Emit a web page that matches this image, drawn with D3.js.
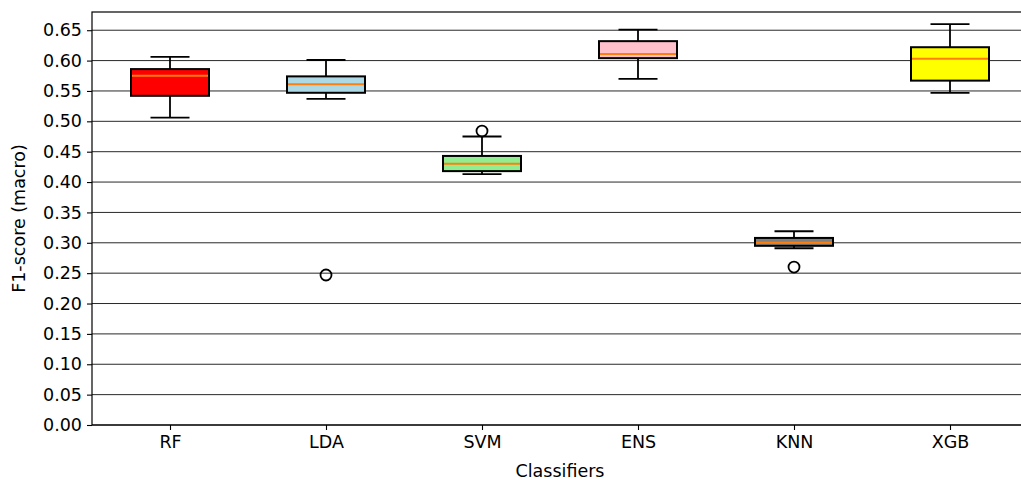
<!DOCTYPE html>
<html>
<head>
<meta charset="utf-8">
<script src="https://cdn.jsdelivr.net/npm/d3@7"></script>
<style>
  body { margin: 0; background: #fff; }
  svg { display: block; font-family: "DejaVu Sans", sans-serif; }
</style>
</head>
<body>
<svg id="chart"></svg>
<script>
// values
const classifiers = ["RF", "LDA", "SVM", "ENS", "KNN", "XGB"];
const whiskerLow  = [0.506, 0.537, 0.413, 0.570, 0.291, 0.547];
const q1          = [0.542, 0.547, 0.418, 0.604, 0.295, 0.567];
const medians     = [0.575, 0.561, 0.430, 0.611, 0.300, 0.603];
const q3          = [0.586, 0.574, 0.443, 0.632, 0.308, 0.622];
const whiskerHigh = [0.606, 0.601, 0.475, 0.651, 0.319, 0.660];
const outliers    = [[], [0.247], [0.484], [], [0.260], []];
const boxColors   = ["red", "lightblue", "lightgreen", "pink", "gray", "yellow"];
const yTicks = d3.range(0, 0.651, 0.05);

const width = 1021, height = 480;
const marginLeft = 92, marginTop = 12, marginBottom = 55;
const plotRight = 1028; // right spine falls outside the picture
const fontSize = 17.5;

const svg = d3.select("#chart").attr("width", width).attr("height", height);

const rows = classifiers.map((c, i) => ({
  name: c, lo: whiskerLow[i], q1: q1[i], med: medians[i], q3: q3[i], hi: whiskerHigh[i],
  out: outliers[i], color: boxColors[i]
}));

const x = d3.scalePoint()
  .domain(classifiers)
  .range([marginLeft, plotRight])
  .padding(0.5);

const y = d3.scaleLinear()
  .domain([0, 0.68])
  .range([height - marginBottom, marginTop]);

const boxW = x.step() * 0.5;
const capW = boxW * 0.5;

// grid
svg.append("g")
  .selectAll("line")
  .data(yTicks)
  .join("line")
  .attr("x1", marginLeft).attr("x2", plotRight)
  .attr("y1", d => y(d)).attr("y2", d => y(d))
  .attr("stroke", "#111")
  .attr("stroke-width", 0.9);

// boxes
const g = svg.append("g")
  .selectAll("g")
  .data(rows)
  .join("g")
  .attr("transform", d => `translate(${x(d.name)},0)`);

g.append("line")
  .attr("y1", d => y(d.hi)).attr("y2", d => y(d.q3))
  .attr("stroke", "#000").attr("stroke-width", 1.8);
g.append("line")
  .attr("y1", d => y(d.lo)).attr("y2", d => y(d.q1))
  .attr("stroke", "#000").attr("stroke-width", 1.8);
g.append("line")
  .attr("x1", -capW / 2).attr("x2", capW / 2)
  .attr("y1", d => y(d.hi)).attr("y2", d => y(d.hi))
  .attr("stroke", "#000").attr("stroke-width", 1.8);
g.append("line")
  .attr("x1", -capW / 2).attr("x2", capW / 2)
  .attr("y1", d => y(d.lo)).attr("y2", d => y(d.lo))
  .attr("stroke", "#000").attr("stroke-width", 1.8);

g.append("rect")
  .attr("x", -boxW / 2)
  .attr("width", boxW)
  .attr("y", d => y(d.q3))
  .attr("height", d => y(d.q1) - y(d.q3))
  .attr("fill", d => d.color)
  .attr("stroke", "#000")
  .attr("stroke-width", 2);

g.append("line")
  .attr("x1", -boxW / 2 + 1).attr("x2", boxW / 2 - 1)
  .attr("y1", d => y(d.med)).attr("y2", d => y(d.med))
  .attr("stroke", "#ff7f0e").attr("stroke-width", 2);

g.selectAll("circle")
  .data(d => d.out)
  .join("circle")
  .attr("cy", d => y(d))
  .attr("r", 5.5)
  .attr("fill", "none")
  .attr("stroke", "#000")
  .attr("stroke-width", 1.8);

// axes
const yAxis = svg.append("g")
  .attr("transform", `translate(${marginLeft},0)`)
  .call(d3.axisLeft(y).tickValues(yTicks).tickFormat(d3.format(".2f")).tickSize(5).tickPadding(5).tickSizeOuter(0));
yAxis.select(".domain").remove();

const xAxis = svg.append("g")
  .attr("transform", `translate(0,${height - marginBottom})`)
  .call(d3.axisBottom(x).tickSize(5).tickPadding(6).tickSizeOuter(0));
xAxis.select(".domain").remove();

svg.selectAll(".tick text").attr("font-size", fontSize).attr("fill", "#000").attr("font-family", "DejaVu Sans");
svg.selectAll(".tick line").attr("stroke", "#000").attr("stroke-width", 1.1);

// spines
svg.append("rect")
  .attr("x", marginLeft).attr("y", marginTop)
  .attr("width", plotRight - marginLeft)
  .attr("height", height - marginBottom - marginTop)
  .attr("fill", "none")
  .attr("stroke", "#000")
  .attr("stroke-width", 1.2);

// labels
svg.append("text")
  .attr("x", (marginLeft + plotRight) / 2)
  .attr("y", 477)
  .attr("text-anchor", "middle")
  .attr("font-size", fontSize)
  .text("Classifiers");

svg.append("text")
  .attr("transform", `translate(25,${y(0.34)}) rotate(-90)`)
  .attr("text-anchor", "middle")
  .attr("font-size", fontSize)
  .text("F1-score (macro)");
</script>
</body>
</html>
